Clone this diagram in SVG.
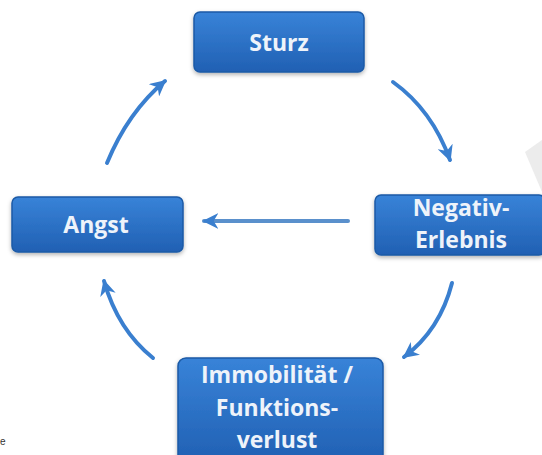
<svg xmlns="http://www.w3.org/2000/svg" width="542" height="455" viewBox="0 0 542 455">
<style>
.box{fill:url(#bg);stroke:#1b5aa6;stroke-width:1.5;filter:url(#sh)}
.lbl{font-family:"Open Sans","Noto Sans",sans-serif;font-weight:bold;font-size:23px;fill:#eef3fa;text-anchor:middle}
.arr{fill:none;stroke:#3a7fcf;stroke-width:4;stroke-linecap:round;marker-end:url(#ah)}
</style>
<defs>
<linearGradient id="bg" x1="0" y1="0" x2="0" y2="1">
<stop offset="0" stop-color="#3883d8"/>
<stop offset="1" stop-color="#2160b3"/>
</linearGradient>
<filter id="sh" x="-10%" y="-10%" width="120%" height="130%">
<feDropShadow dx="0" dy="2" stdDeviation="2" flood-color="#000" flood-opacity="0.3"/>
</filter>
<marker id="ah" viewBox="0 0 10 10" refX="9" refY="5" markerWidth="16" markerHeight="16" markerUnits="userSpaceOnUse" orient="auto">
<path d="M0,0 L10,5 L0,10 L3,5 Z" fill="#3a7fcf"/>
</marker>
</defs>
<rect width="542" height="455" fill="#ffffff"/>
<polygon points="525,152 542,140 542,192" fill="#ececec"/>
<text x="0" y="445" font-family="Liberation Sans, sans-serif" font-size="10" fill="#333">e</text>
<g id="connectors">
<path class="arr" d="M393,82 Q432,110 450,160"/>
<path class="arr" d="M348,221 L204,221" style="stroke:#5a90cc"/>
<path class="arr" d="M452,283 Q440,330 404,357"/>
<path class="arr" d="M153,358 Q118,330 104,281"/>
<path class="arr" d="M107,163 Q128,112 165,81"/>
</g>
<g id="sturz">
<rect class="box" x="194" y="12" width="170" height="60" rx="6"/>
<text class="lbl" x="279" y="51">Sturz</text>
</g>
<g id="negativ">
<rect class="box" x="375" y="195" width="170" height="60" rx="6"/>
<text class="lbl" x="461" y="216">Negativ-</text>
<text class="lbl" x="461" y="248">Erlebnis</text>
</g>
<g id="angst">
<rect class="box" x="12" y="197" width="171" height="55" rx="6"/>
<text class="lbl" x="96" y="233">Angst</text>
</g>
<g id="immobilitaet">
<rect class="box" x="178" y="358" width="205" height="105" rx="8"/>
<text class="lbl" x="277" y="383">Immobilität /</text>
<text class="lbl" x="277" y="416">Funktions-</text>
<text class="lbl" x="277" y="448">verlust</text>
</g>
</svg>
